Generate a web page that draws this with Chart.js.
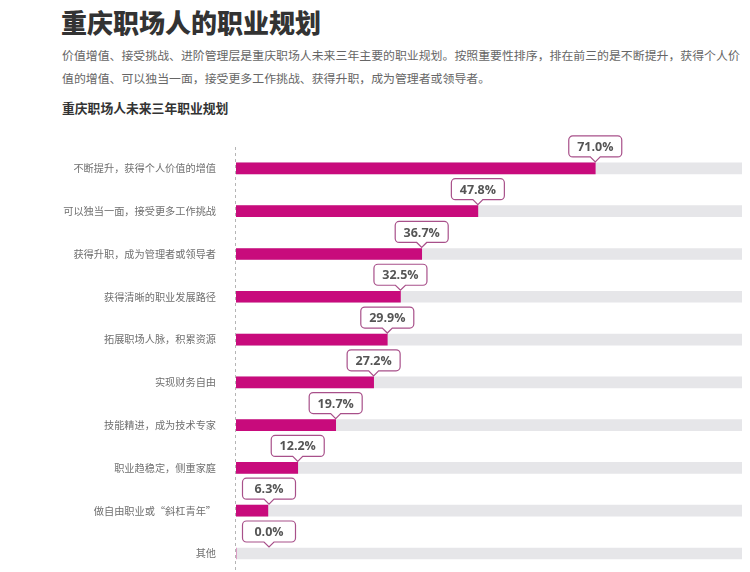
<!DOCTYPE html>
<html>
<head>
<meta charset="utf-8">
<script src="https://cdn.jsdelivr.net/npm/chart.js@4"></script>
<style>
  body { margin: 0; background: #fff; overflow: hidden; width: 750px; height: 572px; position: relative;
         font-family: "Noto Sans CJK SC", "Noto Sans", sans-serif; }
  #title { position: absolute; left: 61px; top: 3px; font-size: 26px; font-weight: 900; color: #333; white-space: nowrap; }
  .para { position: absolute; left: 62px; font-size: 11.9px; color: #666; white-space: nowrap; }
  #sub { position: absolute; left: 62px; top: 98px; font-size: 12.8px; font-weight: 700; color: #333; white-space: nowrap; }
  #myChart { position: absolute; left: 0; top: 125px; }
</style>
</head>
<body>
<div id="title">重庆职场人的职业规划</div>
<div class="para" style="top:46px">价值增值、接受挑战、进阶管理层是重庆职场人未来三年主要的职业规划。按照重要性排序，排在前三的是不断提升，获得个人价</div>
<div class="para" style="top:69px">值的增值、可以独当一面，接受更多工作挑战、获得升职，成为管理者或领导者。</div>
<div id="sub">重庆职场人未来三年职业规划</div>
<canvas id="myChart" width="750" height="468"></canvas>
<script>
var categories = ['不断提升，获得个人价值的增值', '可以独当一面，接受更多工作挑战', '获得升职，成为管理者或领导者',
  '获得清晰的职业发展路径', '拓展职场人脉，积累资源', '实现财务自由', '技能精进，成为技术专家',
  '职业趋稳定，侧重家庭', '做自由职业或“斜杠青年”', '其他'];
var shares = [71.0, 47.8, 36.7, 32.5, 29.9, 27.2, 19.7, 12.2, 6.3, 0.0];
var trackValues = [100, 100, 100, 100, 100, 100, 100, 100, 100, 100];

// dashed line at x = 0
var zeroLine = {
  id: 'zeroLine',
  beforeDatasetsDraw: function(chart) {
    var ctx = chart.ctx, x = chart.scales.x.getPixelForValue(0), a = chart.chartArea;
    ctx.save();
    ctx.strokeStyle = '#b5b5b5';
    ctx.lineWidth = 1;
    ctx.setLineDash([3, 3]);
    ctx.beginPath();
    ctx.moveTo(Math.round(x) - 0.5, a.top);
    ctx.lineTo(Math.round(x) - 0.5, a.bottom);
    ctx.stroke();
    ctx.restore();
  }
};

// callout boxes above each bar
var callouts = {
  id: 'callouts',
  afterDatasetsDraw: function(chart) {
    var ctx = chart.ctx, meta = chart.getDatasetMeta(0), left = chart.chartArea.left;
    var w = 53, h = 21, r = 4, tip = 6;
    ctx.save();
    meta.data.forEach(function(bar, i) {
      var cx = Math.max(bar.x, left + 33);
      var top = bar.y - bar.height / 2;
      var by = top - tip - h;
      var bx = cx - w / 2;
      ctx.beginPath();
      ctx.moveTo(bx + r, by);
      ctx.lineTo(bx + w - r, by);
      ctx.arcTo(bx + w, by, bx + w, by + r, r);
      ctx.lineTo(bx + w, by + h - r);
      ctx.arcTo(bx + w, by + h, bx + w - r, by + h, r);
      ctx.lineTo(cx + 5, by + h);
      ctx.lineTo(cx, by + h + tip - 1);
      ctx.lineTo(cx - 5, by + h);
      ctx.lineTo(bx + r, by + h);
      ctx.arcTo(bx, by + h, bx, by + h - r, r);
      ctx.lineTo(bx, by + r);
      ctx.arcTo(bx, by, bx + r, by, r);
      ctx.closePath();
      ctx.fillStyle = '#fff';
      ctx.fill();
      ctx.strokeStyle = '#a8508a';
      ctx.lineWidth = 1.2;
      ctx.stroke();
      ctx.fillStyle = '#555';
      ctx.font = 'bold 12.5px "Open Sans", sans-serif';
      ctx.textAlign = 'center';
      ctx.textBaseline = 'middle';
      ctx.fillText(shares[i].toFixed(1) + '%', cx, by + h / 2 + 1);
    });
    ctx.restore();
  }
};

var ctx = document.getElementById('myChart').getContext('2d');
var chart = new Chart(ctx, {
  type: 'bar',
  data: {
    labels: categories,
    datasets: [{
      data: shares,
      backgroundColor: '#c80b7c',
      barThickness: 11,
      grouped: false,
      order: 1
    }, {
      data: trackValues,
      backgroundColor: '#e6e6e9',
      barThickness: 11,
      grouped: false,
      order: 2
    }]
  },
  options: {
    indexAxis: 'y',
    responsive: false,
    animation: false,
    layout: { padding: { left: 0, right: 8, top: 22, bottom: 0 } },
    plugins: { legend: { display: false }, tooltip: { enabled: false } },
    scales: {
      x: { display: false, min: 0, max: 100 },
      y: {
        grid: { display: false },
        border: { display: false },
        ticks: {
          color: '#707070',
          padding: 12,
          font: { size: 10.2, family: '"Noto Sans CJK SC", sans-serif' }
        },
        afterFit: function(scale) { scale.width = 236; }
      }
    }
  },
  plugins: [zeroLine, callouts]
});
</script>
</body>
</html>
